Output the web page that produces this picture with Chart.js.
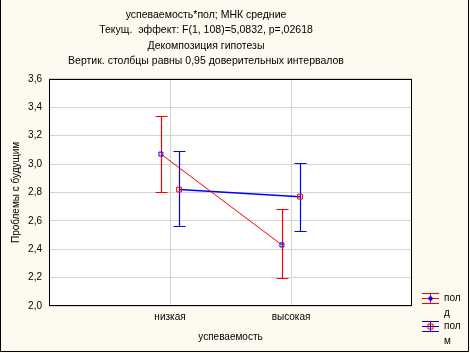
<!DOCTYPE html>
<html>
<head>
<meta charset="utf-8">
<script src="https://cdn.jsdelivr.net/npm/chart.js@4/dist/chart.umd.min.js"></script>
<style>
  html, body { margin: 0; padding: 0; background: #fffaf0; }
  #wrap { width: 470px; height: 353px; }
</style>
</head>
<body>
<div id="wrap"><canvas id="c" width="470" height="353"></canvas></div>
<script>
// data
const categories = ['низкая', 'высокая'];
const groupLabel = 'пол';
const seriesNames = ['д', 'м'];
const meanD = [3.07, 2.43];
const lowD = [2.80, 2.20];
const highD = [3.34, 2.68];
const meanM = [2.82, 2.77];
const lowM = [2.56, 2.53];
const highM = [3.09, 3.01];
const titleLines = [
  'успеваемость*пол; МНК средние',
  'Текущ.  эффект: F(1, 108)=5,0832, p=,02618',
  'Декомпозиция гипотезы',
  'Вертик. столбцы равны 0,95 доверительных интервалов'
];

const RED = '#ff0000';
const BLUE = '#0000ff';
const FONT = 'Liberation Sans, Arial, sans-serif';
const shift = 0.075; // small horizontal dodge between series

function pts(means, dx) {
  return means.map((v, i) => ({ x: i + 1 + dx, y: v }));
}

// vertical confidence bars
const errorBars = {
  id: 'errorBars',
  beforeDatasetsDraw(chart) {
    const ctx = chart.ctx;
    const xs = chart.scales.x, ys = chart.scales.y;
    const sets = [[lowD, highD, -shift, RED], [lowM, highM, shift, BLUE]];
    ctx.save();
    sets.forEach(([lo, hi, dx, col]) => {
      ctx.strokeStyle = col;
      ctx.lineWidth = 1.2;
      lo.forEach((l, i) => {
        const x = Math.round(xs.getPixelForValue(i + 1 + dx)) + 0.5;
        const y1 = Math.round(ys.getPixelForValue(l)) + 0.5;
        const y2 = Math.round(ys.getPixelForValue(hi[i])) + 0.5;
        ctx.beginPath();
        ctx.moveTo(x, y1); ctx.lineTo(x, y2);
        ctx.moveTo(x - 6, y1); ctx.lineTo(x + 6, y1);
        ctx.moveTo(x - 6, y2); ctx.lineTo(x + 6, y2);
        ctx.stroke();
      });
    });
    ctx.restore();
  }
};

// frame, plot border and the legend at the bottom right
const decor = {
  id: 'decor',
  beforeDraw(chart) {
    const ctx = chart.ctx;
    ctx.save();
    ctx.fillStyle = '#fffaf0';
    ctx.fillRect(0, 0, chart.width, chart.height);
    const a = chart.chartArea;
    ctx.fillStyle = '#ffffff';
    ctx.fillRect(a.left, a.top, a.right - a.left, a.bottom - a.top);
    ctx.restore();
  },
  afterDraw(chart) {
    const ctx = chart.ctx;
    const a = chart.chartArea;
    ctx.save();
    ctx.strokeStyle = '#000';
    ctx.lineWidth = 1;
    ctx.strokeRect(Math.round(a.left) + 0.5, Math.round(a.top) + 0.5,
      Math.round(a.right - a.left) - 1, Math.round(a.bottom - a.top) - 1);
    // outer frame
    ctx.beginPath();
    ctx.moveTo(0.5, 0); ctx.lineTo(0.5, 351.5);
    ctx.lineTo(468.5, 351.5); ctx.lineTo(468.5, 0);
    ctx.stroke();

    // legend
    const entries = [
      { name: seriesNames[0], bar: RED, mark: BLUE, shape: 'circle', y: 298 },
      { name: seriesNames[1], bar: BLUE, mark: RED, shape: 'rect', y: 326 }
    ];
    entries.forEach(e => {
      const cx = 430.5, y = e.y + 0.5;
      ctx.strokeStyle = e.bar;
      ctx.lineWidth = 1;
      ctx.beginPath();
      ctx.moveTo(422, y - 5); ctx.lineTo(439, y - 5);
      ctx.moveTo(422, y + 5); ctx.lineTo(439, y + 5);
      ctx.moveTo(cx, y - 5); ctx.lineTo(cx, y + 5);
      ctx.moveTo(422, y); ctx.lineTo(439, y);
      ctx.stroke();
      ctx.strokeStyle = e.mark;
      ctx.fillStyle = e.mark;
      ctx.beginPath();
      if (e.shape === 'circle') {
        ctx.arc(cx, y, 2.2, 0, 2 * Math.PI);
        ctx.fill();
      } else {
        ctx.rect(cx - 2.5, y - 2.5, 5, 5);
        ctx.stroke();
      }
      ctx.fillStyle = '#000';
      ctx.font = '10px ' + FONT;
      ctx.textBaseline = 'middle';
      ctx.textAlign = 'left';
      ctx.fillText(groupLabel, 444, e.y);
      ctx.fillText(e.name, 444, e.y + 15);
    });
    ctx.restore();
  }
};

new Chart(document.getElementById('c'), {
  type: 'line',
  data: {
    datasets: [
      {
        label: groupLabel + ' ' + seriesNames[0],
        data: pts(meanD, -shift),
        borderColor: RED,
        borderWidth: 1,
        pointStyle: 'rect',
        pointRadius: 2.8,
        pointBorderColor: BLUE,
        pointBackgroundColor: 'rgba(0,0,0,0)',
        pointBorderWidth: 1,
        tension: 0
      },
      {
        label: groupLabel + ' ' + seriesNames[1],
        data: pts(meanM, shift),
        borderColor: BLUE,
        borderWidth: 1.5,
        pointStyle: 'rect',
        pointRadius: 3.4,
        pointBorderColor: RED,
        pointBackgroundColor: 'rgba(0,0,0,0)',
        pointBorderWidth: 1,
        tension: 0
      }
    ]
  },
  options: {
    responsive: false,
    animation: false,
    layout: { padding: { left: 0, right: 58, top: 0, bottom: 0 } },
    plugins: {
      legend: { display: false },
      tooltip: { enabled: false },
      title: {
        display: true,
        text: titleLines,
        color: '#000',
        font: { family: FONT, size: 10.5, weight: 'normal', lineHeight: 1.46 },
        padding: { top: 7.5, bottom: 10 }
      }
    },
    scales: {
      x: {
        type: 'linear',
        min: 0,
        max: 3,
        afterFit(s) { s.height = 47; },
        afterBuildTicks(s) { s.ticks = [0, 1, 2, 3].map(v => ({ value: v })); },
        ticks: {
          color: '#000',
          padding: 5,
          maxRotation: 0,
          autoSkip: false,
          font: { family: FONT, size: 10 },
          callback: v => categories[v - 1] || ''
        },
        grid: {
          drawTicks: false,
          color: c => (c.tick && (c.tick.value === 0 || c.tick.value === 3)) ? 'rgba(0,0,0,0)' : '#d4d4d4'
        },
        border: { display: false },
        title: {
          display: true,
          text: 'успеваемость',
          color: '#000',
          font: { family: FONT, size: 10 },
          padding: { top: 4, bottom: 10 }
        }
      },
      y: {
        min: 2.0,
        max: 3.6,
        afterFit(s) { s.width = 49; },
        ticks: {
          stepSize: 0.2,
          color: '#000',
          padding: 7,
          font: { family: FONT, size: 10 },
          callback: v => v.toFixed(1).replace('.', ',')
        },
        grid: { drawTicks: false, color: '#d4d4d4' },
        border: { display: false },
        title: {
          display: true,
          text: 'Проблемы с будущим',
          color: '#000',
          font: { family: FONT, size: 10 },
          padding: { top: 10, bottom: 4 }
        }
      }
    }
  },
  plugins: [errorBars, decor]
});
</script>
</body>
</html>
